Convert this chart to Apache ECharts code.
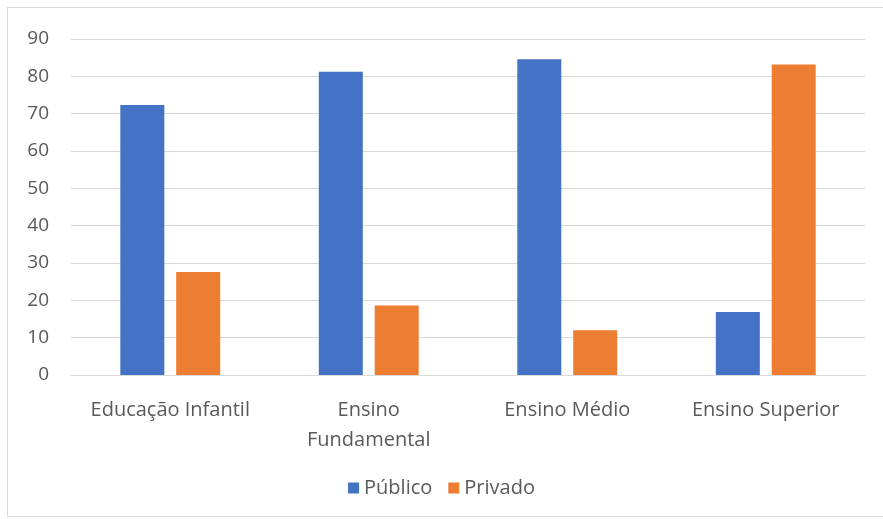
<!DOCTYPE html>
<html>
<head>
<meta charset="utf-8">
<script src="https://cdn.jsdelivr.net/npm/echarts@6/dist/echarts.min.js"></script>
<style>
  html, body { margin: 0; padding: 0; background: #fff; }
  #chart { width: 883px; height: 519px; }
  #frame { position: absolute; left: 7px; top: 7px; width: 880px; height: 510px; border: 1px solid #d9d9d9; box-sizing: border-box; pointer-events: none; }
</style>
</head>
<body>
<div id="chart"></div>
<div id="frame"></div>
<script>
// dados do gráfico
const categories = ['Educação Infantil', 'Ensino\nFundamental', 'Ensino Médio', 'Ensino Superior']
const publico = [72.3, 81.2, 84.6, 16.9]
const privado = [27.6, 18.6, 12.0, 83.2]
const seriesNames = ['Público', 'Privado']

const myChart = echarts.init(document.getElementById('chart'))
const font = 'Open Sans'
const option = {
  animation: false,
  color: ['#4472C4', '#ED7D31'],
  grid: { left: 71, right: 18, top: 39, bottom: 144 },
  legend: {
    bottom: 16,
    left: 'center',
    itemWidth: 11,
    itemHeight: 11,
    itemGap: 16,
    icon: 'rect',
    textStyle: { color: '#595959', fontSize: 20, fontFamily: font },
    data: seriesNames
  },
  xAxis: {
    type: 'category',
    data: categories,
    axisLine: { lineStyle: { color: '#d9d9d9' } },
    axisTick: { show: false },
    axisLabel: { color: '#595959', fontSize: 20, fontFamily: font, margin: 20, lineHeight: 30, interval: 0 }
  },
  yAxis: {
    type: 'value',
    min: 0,
    max: 90,
    interval: 10,
    axisLine: { show: false },
    axisTick: { show: false },
    splitLine: { lineStyle: { color: '#d9d9d9', width: 1 } },
    axisLabel: { color: '#595959', fontSize: 19, fontFamily: font, margin: 22 }
  },
  series: [
    { name: seriesNames[0], type: 'bar', data: publico, barWidth: 44, barGap: '27%' },
    { name: seriesNames[1], type: 'bar', data: privado, barWidth: 44, barGap: '27%' }
  ]
}
myChart.setOption(option)
window.addEventListener('resize', function() {
  myChart.resize()
})
</script>
</body>
</html>
